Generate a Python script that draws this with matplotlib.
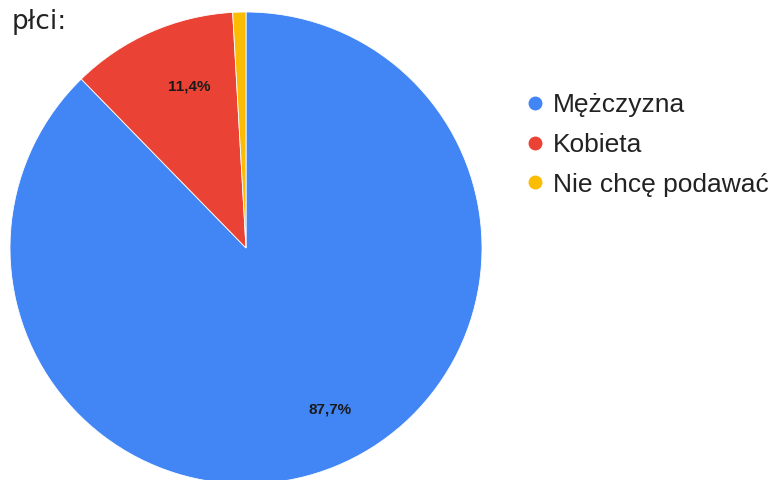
import matplotlib
matplotlib.use("Agg")
import matplotlib.pyplot as plt
from matplotlib.lines import Line2D
import numpy as np

categories = ["Mężczyzna", "Kobieta", "Nie chcę podawać"]
values = [87.7, 11.4, 0.9]
colors = ["#4285f4", "#ea4335", "#fbbc04"]
title = "płci:"
# label placement tweaks (angular offset in degrees, radial distance)
label_shift = [5.3, -4.3, 0.0]
label_dist = [0.773, 0.724, 0.75]

fig = plt.figure(figsize=(7.82, 4.8), dpi=100)
W, H = 782, 480
cx, cy, r = 246, 248, 236
ax = fig.add_axes([(cx - r) / W, (H - cy - r) / H, 2 * r / W, 2 * r / H])

def fmt(p):
    return ("%.1f%%" % p).replace(".", ",") if p > 5 else ""

wedges, texts, autotexts = ax.pie(
    values, colors=colors, startangle=90, counterclock=False,
    autopct=fmt, pctdistance=0.75,
    wedgeprops=dict(edgecolor="white", linewidth=0.6),
    textprops=dict(fontsize=11, fontweight="bold", color="#1a1a1a",
                   family="Liberation Sans"))
for w, t, s, d in zip(wedges, autotexts, label_shift, label_dist):
    mid = np.deg2rad((w.theta1 + w.theta2) / 2 + s)
    t.set_position((d * np.cos(mid), d * np.sin(mid)))
ax.set_xlim(-1, 1)
ax.set_ylim(-1, 1)
ax.set_aspect("equal")
ax.axis("off")

fig.text(12 / W, 1 - 29 / H, title, fontsize=19, family="DejaVu Sans",
         color="#222222", va="baseline", ha="left")

handles = [Line2D([0], [0], marker="o", color="w", markerfacecolor=c,
                  markeredgecolor=c, markersize=9, linestyle="")
           for c in colors]
leg = fig.legend(handles, categories, loc="upper left",
                 bbox_to_anchor=(524.5 / W, 1 - 93 / H),
                 frameon=False, prop=dict(family="Liberation Sans", size=19),
                 labelspacing=0.6, handletextpad=0.28, handlelength=0.8,
                 borderaxespad=0, borderpad=0)
for t in leg.get_texts():
    t.set_color("#222222")

fig.savefig("out.png", dpi=100)
